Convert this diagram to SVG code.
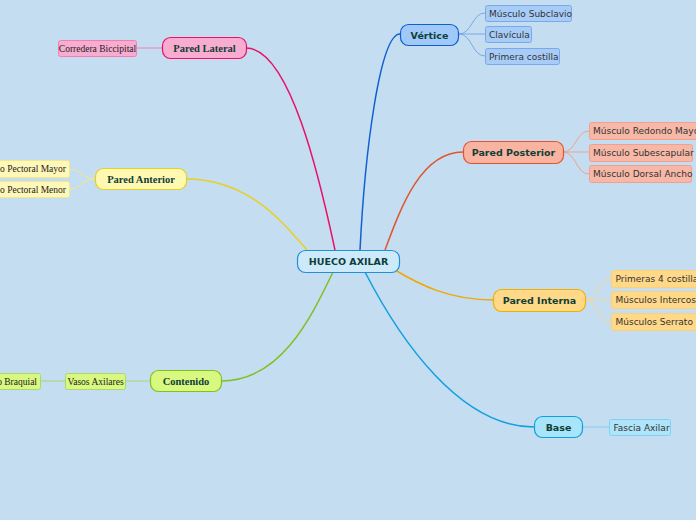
<svg xmlns="http://www.w3.org/2000/svg" width="696" height="520" viewBox="0 0 696 520">
<style>
.m{font-family:"DejaVu Sans",Verdana,sans-serif;font-size:9.5px;font-weight:bold;fill:#0f3d38;text-anchor:middle}
.ms{font-family:"Liberation Serif","Times New Roman",serif;font-size:10.5px;font-weight:bold;fill:#0f3d38;text-anchor:middle}
.c{font-family:"DejaVu Sans",Verdana,sans-serif;font-size:9px;fill:#333;}
.cs{font-family:"Liberation Serif","Times New Roman",serif;font-size:9.5px;fill:#222;}
.ln{fill:none}
</style>
<rect width="696" height="520" fill="#c4ddf0"/>
<g id="connectors" class="ln">
  <path d="M360,250 C365,150 380,34 400,34" stroke="#1060d0" stroke-width="1.5"/>
  <path d="M335,250 C320,180 290,48 246,48" stroke="#e8106a" stroke-width="1.5"/>
  <path d="M385,250 C400,210 420,152 463,152" stroke="#e05530" stroke-width="1.5"/>
  <path d="M307,250 C285,225 250,179 186,179" stroke="#e8d020" stroke-width="1.5"/>
  <path d="M395,270 C420,285 450,300 493,300" stroke="#f0a800" stroke-width="1.5"/>
  <path d="M333,272 C310,320 280,381 221,381" stroke="#80c020" stroke-width="1.5"/>
  <path d="M365,272 C400,340 460,427 534,427" stroke="#10a0e0" stroke-width="1.5"/>
  <g stroke="#7aa8e8" stroke-width="1">
    <path d="M459,34 C472,34 472,13 485,13"/>
    <path d="M459,34 L485,34"/>
    <path d="M459,34 C472,34 472,56 485,56"/>
  </g>
  <g stroke="#f0a090" stroke-width="1">
    <path d="M563,152 C576,152 576,131 589,131"/>
    <path d="M563,152 L589,152"/>
    <path d="M563,152 C576,152 576,174 589,174"/>
  </g>
  <g stroke="#f8d890" stroke-width="1">
    <path d="M585,300 C598,300 598,279 611,279"/>
    <path d="M585,300 L611,300"/>
    <path d="M585,300 C598,300 598,322 611,322"/>
  </g>
  <path d="M582,427 L609,427" stroke="#80d0f0" stroke-width="1"/>
  <path d="M162,48 L136,48" stroke="#f080b0" stroke-width="1"/>
  <g stroke="#f0e890" stroke-width="1">
    <path d="M95,179 C82,179 82,169 69,169"/>
    <path d="M95,179 C82,179 82,189 69,189"/>
  </g>
  <path d="M150,381 L125,381" stroke="#a8d870" stroke-width="1"/>
  <path d="M65,381 L40,381" stroke="#a8d870" stroke-width="1"/>
</g>
<g id="root">
  <rect x="297.5" y="250.5" width="102" height="22" rx="8" fill="#cdeafb" stroke="#2090d8" stroke-width="1.2"/>
  <text class="m" x="348.5" y="265">HUECO AXILAR</text>
</g>
<g id="vertice">
  <rect x="400.5" y="24.5" width="58" height="21" rx="8" fill="#a0c8f8" stroke="#1060d0" stroke-width="1.2"/>
  <text class="m" x="429.5" y="38.5">Vértice</text>
</g>
<g id="subclavio"><rect x="485.5" y="5.5" width="86" height="16" rx="2" fill="#a8ccf8" stroke="#7aa8e8"/><text class="c" x="489" y="16.5">Músculo Subclavio</text></g>
<g id="clavicula"><rect x="485.5" y="26.5" width="46" height="16" rx="2" fill="#a8ccf8" stroke="#7aa8e8"/><text class="c" x="489" y="37.5">Clavícula</text></g>
<g id="primera"><rect x="485.5" y="48.5" width="74" height="16" rx="2" fill="#a8ccf8" stroke="#7aa8e8"/><text class="c" x="489" y="59.5">Primera costilla</text></g>
<g id="posterior">
  <rect x="463.5" y="141.5" width="100" height="22" rx="8" fill="#f8b4a0" stroke="#e05530" stroke-width="1.2"/>
  <text class="m" x="513.5" y="156">Pared Posterior</text>
</g>
<g id="redondo"><rect x="589.5" y="122.5" width="112" height="17" rx="2" fill="#f8b8a8" stroke="#f0a090"/><text class="c" x="593" y="134">Músculo Redondo Mayor</text></g>
<g id="subescapular"><rect x="589.5" y="144.5" width="103" height="17" rx="2" fill="#f8b8a8" stroke="#f0a090"/><text class="c" x="593" y="156">Músculo Subescapular</text></g>
<g id="dorsal"><rect x="589.5" y="165.5" width="102" height="17" rx="2" fill="#f8b8a8" stroke="#f0a090"/><text class="c" x="593" y="177">Músculo Dorsal Ancho</text></g>
<g id="interna">
  <rect x="493.5" y="289.5" width="92" height="22" rx="8" fill="#ffd888" stroke="#f0b000" stroke-width="1.2"/>
  <text class="m" x="539.5" y="304">Pared Interna</text>
</g>
<g id="costillas"><rect x="611.5" y="270.5" width="100" height="17" rx="2" fill="#ffd888" stroke="#f8d080"/><text class="c" x="615.5" y="282">Primeras 4 costillas</text></g>
<g id="intercostales"><rect x="611.5" y="291.5" width="115" height="17" rx="2" fill="#ffd888" stroke="#f8d080"/><text class="c" x="615.5" y="303">Músculos Intercostales</text></g>
<g id="serrato"><rect x="611.5" y="313.5" width="115" height="17" rx="2" fill="#ffd888" stroke="#f8d080"/><text class="c" x="615.5" y="325">Músculos Serrato Mayor</text></g>
<g id="base">
  <rect x="534.5" y="416.5" width="48" height="21" rx="8" fill="#a8e4fa" stroke="#10a0e0" stroke-width="1.2"/>
  <text class="m" x="558.5" y="430.5">Base</text>
</g>
<g id="fascia"><rect x="609.5" y="419.5" width="61" height="16" rx="2" fill="#b0e4fa" stroke="#80d0f0"/><text class="c" x="613.5" y="430.5">Fascia Axilar</text></g>
<g id="lateral">
  <rect x="162.5" y="37.5" width="84" height="21" rx="8" fill="#f8acd0" stroke="#e8106a" stroke-width="1.2"/>
  <text class="ms" x="204.5" y="51.5">Pared Lateral</text>
</g>
<g id="corredera"><rect x="58.5" y="40.5" width="78" height="16" rx="2" fill="#f8acd0" stroke="#f080b0"/><text class="cs" x="97.5" y="51.5" text-anchor="middle">Corredera Biccipital</text></g>
<g id="anterior">
  <rect x="95.5" y="168.5" width="91" height="21" rx="8" fill="#fff8b0" stroke="#e8d020" stroke-width="1.2"/>
  <text class="ms" x="141" y="182.5">Pared Anterior</text>
</g>
<g id="pmayor"><rect x="-40.5" y="160.5" width="110" height="17" rx="2" fill="#fff8b8" stroke="#f0e890"/><text class="cs" x="66" y="172" text-anchor="end" font-size="9">Músculo Pectoral Mayor</text></g>
<g id="pmenor"><rect x="-40.5" y="181.5" width="110" height="16" rx="2" fill="#fff8b8" stroke="#f0e890"/><text class="cs" x="66" y="192.5" text-anchor="end" font-size="9">Músculo Pectoral Menor</text></g>
<g id="contenido">
  <rect x="150.5" y="370.5" width="71" height="21" rx="8" fill="#d8f880" stroke="#80c020" stroke-width="1.2"/>
  <text class="ms" x="186" y="384.5">Contenido</text>
</g>
<g id="vasos"><rect x="65.5" y="373.5" width="60" height="16" rx="2" fill="#d8f880" stroke="#a8d870"/><text class="cs" x="95.5" y="384.5" text-anchor="middle">Vasos Axilares</text></g>
<g id="plexo"><rect x="-30.5" y="373.5" width="71" height="16" rx="2" fill="#d8f880" stroke="#a8d870"/><text class="cs" x="37" y="384.5" text-anchor="end">Plexo Braquial</text></g>
</svg>
